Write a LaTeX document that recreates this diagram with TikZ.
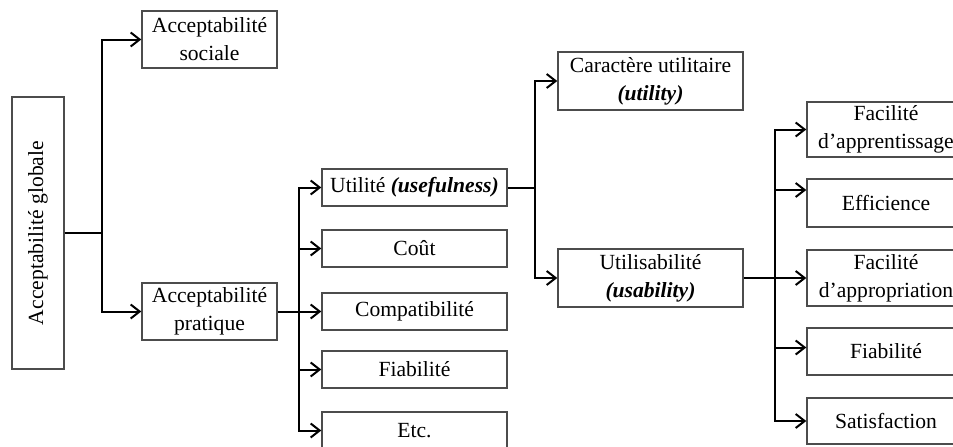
\documentclass[tikz,border=0pt]{standalone}
\usepackage{fontspec}
\setmainfont{Liberation Serif}
\usetikzlibrary{shapes,arrows.meta}
\tikzset{
	box/.style      = {draw = black!70, line width = 0.7pt, align = center,
		inner sep = 1pt, font = \fontsize{10.8}{14}\selectfont},
	sidebox/.style  = {box, minimum width = 67.5pt, minimum height = 28.5pt},
	midbox/.style   = {box, minimum width = 92.5pt, minimum height = 18.5pt},
	widebox/.style  = {box, minimum width = 92.5pt, minimum height = 29pt},
	rightbox/.style = {box, minimum width = 79pt, minimum height = 23.5pt}
}
\newcommand{\eng}[1]{\textbf{\textit{#1}}}

\begin{document}
\begin{tikzpicture}[x = 0.5pt, y = -0.5pt, line width = 1pt,
	>={Straight Barb[length = 4.5pt, width = 7pt]}]

	\useasboundingbox (0,0) rectangle (953,446);

	\draw
	% first level
	node at (38,233) [box, rotate = 90, minimum width = 136pt,
		minimum height = 26pt] (glob) {Acceptabilité globale}
	node at (209.5,39.5) [sidebox] (soc) {Acceptabilité\\sociale}
	node at (209.5,311.5) [sidebox] (prat) {Acceptabilité\\pratique}

	% practical acceptability
	node at (414.5,187.5) [midbox] (util) {Utilité \eng{(usefulness)}}
	node at (414.5,248.5) [midbox] (cout) {Coût}
	node at (414.5,311.5) [midbox] (compat) {Compatibilité}
	node at (414.5,369.5) [midbox] (fiab) {Fiabilité}
	node at (414.5,430.5) [midbox] (etc) {Etc.}

	% usefulness
	node at (650.5,81) [widebox] (carac) {Caractère utilitaire\\\eng{(utility)}}
	node at (650.5,278) [widebox] (usab) {Utilisabilité\\\eng{(usability)}}

	% usability
	node at (886,129.5) [rightbox, minimum height = 27.5pt] (fapp) {Facilité\\d'apprentissage}
	node at (886,203) [rightbox, minimum height = 24pt] (eff) {Efficience}
	node at (886,278) [rightbox, minimum height = 28pt] (fappr) {Facilité\\d'appropriation}
	node at (886,351.5) [rightbox] (fiabu) {Fiabilité}
	node at (886,421) [rightbox, minimum height = 23pt] (satis) {Satisfaction};

	\coordinate (t1) at (102,233);
	\coordinate (t2) at (299,311.5);
	\coordinate (t3) at (535,187.5);
	\coordinate (t4) at (775,278);

	\draw(glob) -- (t1);
	\draw[->](t1) |- (soc);
	\draw[->](t1) |- (prat);

	\draw(prat) -- (t2);
	\draw[->](t2) |- (util);
	\draw[->](t2) |- (cout);
	\draw[->](t2) -- (compat);
	\draw[->](t2) |- (fiab);
	\draw[->](t2) |- (etc);

	\draw(util) -- (t3);
	\draw[->](t3) |- (carac);
	\draw[->](t3) |- (usab);

	\draw(usab) -- (t4);
	\draw[->](t4) |- (fapp);
	\draw[->](t4) |- ([yshift = 6.5pt]eff.west);
	\draw[->](t4) -- (fappr);
	\draw[->](t4) |- ([yshift = 2pt]fiabu.west);
	\draw[->](t4) |- (satis);

\end{tikzpicture}
\end{document}
